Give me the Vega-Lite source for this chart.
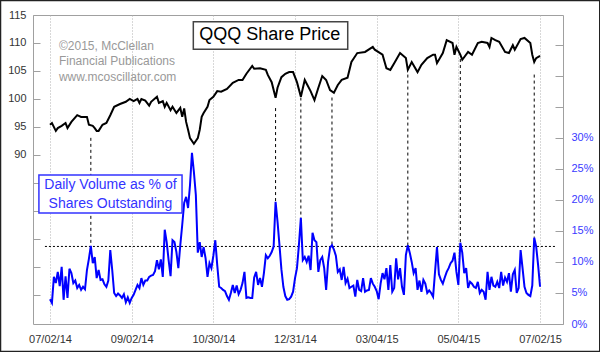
{
"$schema": "https://vega.github.io/schema/vega-lite/v6.json",
"width": 530, "height": 309,
"autosize": "none",
"padding": {"left": 33, "top": 15, "right": 37, "bottom": 28},
"background": "white",
"config": {"view": {"stroke": "#a0a0a0", "strokeWidth": 1}, "font": "Liberation Sans"},
"datasets": {
"price": [{"d":0,"p":95.4},{"d":1,"p":95.7},{"d":3,"p":94.3},{"d":4,"p":94.8},{"d":6,"p":95.2},{"d":8,"p":95.7},{"d":9,"p":94.8},{"d":11,"p":95.9},{"d":14,"p":97.1},{"d":16,"p":96.8},{"d":19,"p":96.8},{"d":20,"p":95.4},{"d":22,"p":95.2},{"d":23,"p":94.8},{"d":24,"p":94.3},{"d":25,"p":94.3},{"d":27,"p":95.4},{"d":29,"p":95.7},{"d":31,"p":97.1},{"d":33,"p":98.6},{"d":36,"p":99.1},{"d":39,"p":99.5},{"d":41,"p":100.0},{"d":43,"p":99.6},{"d":45,"p":100.0},{"d":46,"p":99.3},{"d":47,"p":100.0},{"d":49,"p":99.7},{"d":51,"p":98.8},{"d":52,"p":99.5},{"d":55,"p":100.4},{"d":56,"p":99.3},{"d":58,"p":99.6},{"d":59,"p":98.6},{"d":60,"p":99.3},{"d":62,"p":98.0},{"d":63,"p":98.6},{"d":65,"p":97.5},{"d":67,"p":98.4},{"d":68,"p":96.8},{"d":69,"p":98.3},{"d":70,"p":95.9},{"d":71,"p":94.5},{"d":72,"p":93.0},{"d":74,"p":92.0},{"d":76,"p":93.0},{"d":77,"p":94.5},{"d":78,"p":96.8},{"d":79,"p":97.5},{"d":81,"p":98.6},{"d":82,"p":99.8},{"d":84,"p":100.4},{"d":86,"p":101.4},{"d":88,"p":101.3},{"d":91,"p":101.8},{"d":94,"p":102.9},{"d":97,"p":103.4},{"d":99,"p":103.4},{"d":101,"p":104.5},{"d":104,"p":105.9},{"d":105,"p":105.4},{"d":108,"p":105.5},{"d":111,"p":105.2},{"d":112,"p":104.3},{"d":114,"p":103.0},{"d":116,"p":100.2},{"d":117,"p":102.0},{"d":119,"p":103.9},{"d":121,"p":104.5},{"d":123,"p":104.8},{"d":125,"p":104.8},{"d":127,"p":103.0},{"d":129,"p":100.4},{"d":131,"p":103.4},{"d":134,"p":101.4},{"d":136,"p":99.8},{"d":138,"p":102.0},{"d":140,"p":104.1},{"d":142,"p":103.4},{"d":144,"p":101.6},{"d":146,"p":101.1},{"d":148,"p":102.5},{"d":150,"p":103.4},{"d":153,"p":103.8},{"d":155,"p":106.6},{"d":158,"p":108.2},{"d":162,"p":108.4},{"d":166,"p":109.3},{"d":167,"p":108.8},{"d":171,"p":107.9},{"d":173,"p":105.5},{"d":175,"p":105.2},{"d":177,"p":106.4},{"d":180,"p":108.2},{"d":183,"p":107.3},{"d":184,"p":105.2},{"d":186,"p":106.6},{"d":189,"p":104.8},{"d":191,"p":106.1},{"d":194,"p":107.3},{"d":197,"p":107.9},{"d":198,"p":107.9},{"d":199,"p":106.4},{"d":202,"p":108.2},{"d":204,"p":110.5},{"d":207,"p":110.0},{"d":208,"p":107.9},{"d":209,"p":109.3},{"d":211,"p":107.9},{"d":212,"p":107.0},{"d":215,"p":108.4},{"d":217,"p":107.9},{"d":220,"p":110.0},{"d":222,"p":110.2},{"d":225,"p":110.0},{"d":226,"p":109.3},{"d":227,"p":110.9},{"d":229,"p":110.5},{"d":231,"p":110.2},{"d":234,"p":108.4},{"d":236,"p":108.2},{"d":238,"p":109.6},{"d":239,"p":108.8},{"d":242,"p":110.7},{"d":244,"p":110.9},{"d":247,"p":110.0},{"d":248,"p":107.9},{"d":249,"p":106.6},{"d":250,"p":107.3},{"d":252,"p":107.7}],
"volume": [{"d":0,"v":4.0},{"d":1,"v":3.4},{"d":2,"v":7.6},{"d":3,"v":6.6},{"d":4,"v":8.4},{"d":5,"v":6.1},{"d":6,"v":9.2},{"d":7,"v":3.9},{"d":8,"v":7.7},{"d":9,"v":4.2},{"d":10,"v":8.9},{"d":11,"v":8.2},{"d":12,"v":6.6},{"d":13,"v":7.0},{"d":14,"v":5.8},{"d":15,"v":6.3},{"d":16,"v":5.5},{"d":17,"v":6.0},{"d":18,"v":5.6},{"d":19,"v":8.7},{"d":20,"v":10.5},{"d":21,"v":12.6},{"d":22,"v":9.8},{"d":23,"v":10.8},{"d":24,"v":7.4},{"d":25,"v":8.7},{"d":26,"v":7.1},{"d":27,"v":7.2},{"d":28,"v":6.4},{"d":29,"v":6.0},{"d":30,"v":7.0},{"d":31,"v":11.9},{"d":32,"v":8.7},{"d":33,"v":5.0},{"d":34,"v":4.5},{"d":35,"v":4.9},{"d":36,"v":4.6},{"d":37,"v":4.2},{"d":38,"v":4.8},{"d":39,"v":3.5},{"d":40,"v":4.3},{"d":41,"v":3.4},{"d":42,"v":4.2},{"d":43,"v":4.7},{"d":44,"v":5.5},{"d":45,"v":6.3},{"d":46,"v":5.8},{"d":47,"v":7.4},{"d":48,"v":6.3},{"d":49,"v":7.0},{"d":50,"v":7.0},{"d":51,"v":7.6},{"d":52,"v":7.8},{"d":53,"v":7.9},{"d":54,"v":8.5},{"d":55,"v":10.3},{"d":56,"v":8.8},{"d":57,"v":10.4},{"d":58,"v":7.6},{"d":59,"v":15.2},{"d":60,"v":13.2},{"d":61,"v":10.3},{"d":62,"v":7.7},{"d":63,"v":13.5},{"d":64,"v":13.2},{"d":65,"v":11.6},{"d":66,"v":9.0},{"d":67,"v":12.7},{"d":68,"v":16.0},{"d":69,"v":19.5},{"d":70,"v":20.5},{"d":71,"v":18.7},{"d":72,"v":22.4},{"d":73,"v":27.6},{"d":74,"v":24.5},{"d":75,"v":20.8},{"d":76,"v":11.5},{"d":77,"v":13.2},{"d":78,"v":10.8},{"d":79,"v":12.4},{"d":80,"v":10.6},{"d":81,"v":7.6},{"d":82,"v":9.8},{"d":83,"v":9.0},{"d":84,"v":11.0},{"d":85,"v":13.5},{"d":86,"v":9.5},{"d":87,"v":6.0},{"d":88,"v":5.8},{"d":89,"v":5.5},{"d":90,"v":5.3},{"d":91,"v":4.5},{"d":92,"v":3.9},{"d":93,"v":5.0},{"d":94,"v":6.3},{"d":95,"v":5.0},{"d":96,"v":6.2},{"d":97,"v":4.8},{"d":98,"v":5.5},{"d":99,"v":6.6},{"d":100,"v":8.4},{"d":101,"v":4.2},{"d":102,"v":4.3},{"d":103,"v":4.2},{"d":104,"v":4.2},{"d":105,"v":7.5},{"d":106,"v":8.4},{"d":107,"v":6.3},{"d":108,"v":7.4},{"d":109,"v":6.0},{"d":110,"v":8.2},{"d":111,"v":11.1},{"d":112,"v":10.6},{"d":113,"v":11.0},{"d":114,"v":11.6},{"d":115,"v":12.5},{"d":116,"v":19.7},{"d":117,"v":16.5},{"d":118,"v":12.7},{"d":119,"v":8.8},{"d":120,"v":6.0},{"d":121,"v":4.5},{"d":122,"v":3.9},{"d":123,"v":4.0},{"d":124,"v":4.4},{"d":125,"v":5.2},{"d":126,"v":7.4},{"d":127,"v":9.0},{"d":128,"v":12.7},{"d":129,"v":17.1},{"d":130,"v":10.3},{"d":131,"v":10.8},{"d":132,"v":10.0},{"d":133,"v":11.0},{"d":134,"v":8.7},{"d":135,"v":14.7},{"d":136,"v":13.5},{"d":137,"v":13.2},{"d":138,"v":8.4},{"d":139,"v":10.3},{"d":140,"v":10.8},{"d":141,"v":9.0},{"d":142,"v":5.5},{"d":143,"v":10.0},{"d":144,"v":12.3},{"d":145,"v":12.7},{"d":146,"v":12.0},{"d":147,"v":11.0},{"d":148,"v":8.4},{"d":149,"v":8.8},{"d":150,"v":7.1},{"d":151,"v":9.2},{"d":152,"v":6.6},{"d":153,"v":7.3},{"d":154,"v":5.8},{"d":155,"v":6.0},{"d":156,"v":6.2},{"d":157,"v":4.4},{"d":158,"v":7.1},{"d":159,"v":5.5},{"d":160,"v":5.3},{"d":161,"v":7.4},{"d":162,"v":5.2},{"d":163,"v":5.4},{"d":164,"v":5.5},{"d":165,"v":7.4},{"d":166,"v":6.5},{"d":167,"v":6.0},{"d":168,"v":5.3},{"d":169,"v":4.0},{"d":170,"v":6.5},{"d":171,"v":8.2},{"d":172,"v":7.2},{"d":173,"v":9.0},{"d":174,"v":5.5},{"d":175,"v":9.5},{"d":176,"v":5.2},{"d":177,"v":5.8},{"d":178,"v":10.6},{"d":179,"v":7.2},{"d":180,"v":9.0},{"d":181,"v":6.0},{"d":182,"v":4.7},{"d":183,"v":11.1},{"d":184,"v":12.7},{"d":185,"v":11.5},{"d":186,"v":10.0},{"d":187,"v":8.2},{"d":188,"v":9.0},{"d":189,"v":5.5},{"d":190,"v":7.0},{"d":191,"v":5.2},{"d":192,"v":7.1},{"d":193,"v":6.5},{"d":194,"v":5.0},{"d":195,"v":5.4},{"d":196,"v":5.0},{"d":197,"v":4.4},{"d":198,"v":8.4},{"d":199,"v":12.4},{"d":200,"v":8.0},{"d":201,"v":7.1},{"d":202,"v":6.5},{"d":203,"v":7.5},{"d":204,"v":8.4},{"d":205,"v":9.0},{"d":206,"v":9.8},{"d":207,"v":10.2},{"d":208,"v":11.5},{"d":209,"v":8.4},{"d":210,"v":6.3},{"d":211,"v":13.1},{"d":212,"v":11.5},{"d":213,"v":8.2},{"d":214,"v":9.0},{"d":215,"v":5.8},{"d":216,"v":6.8},{"d":217,"v":6.5},{"d":218,"v":6.0},{"d":219,"v":5.8},{"d":220,"v":6.8},{"d":221,"v":5.0},{"d":222,"v":5.5},{"d":223,"v":5.2},{"d":224,"v":3.9},{"d":225,"v":8.4},{"d":226,"v":5.5},{"d":227,"v":7.6},{"d":228,"v":6.2},{"d":229,"v":6.0},{"d":230,"v":6.8},{"d":231,"v":5.8},{"d":232,"v":8.4},{"d":233,"v":6.2},{"d":234,"v":7.5},{"d":235,"v":6.8},{"d":236,"v":8.2},{"d":237,"v":5.2},{"d":238,"v":8.0},{"d":239,"v":8.7},{"d":240,"v":5.0},{"d":241,"v":5.8},{"d":242,"v":11.9},{"d":243,"v":9.0},{"d":244,"v":6.0},{"d":245,"v":5.0},{"d":246,"v":4.7},{"d":247,"v":4.5},{"d":248,"v":6.2},{"d":249,"v":13.9},{"d":250,"v":12.5},{"d":251,"v":9.5},{"d":252,"v":6.0}],
"drops": [{"d":21,"v":30.0,"v2":12.6},{"d":116,"v":34.8,"v2":19.7},{"d":129,"v":36.5,"v2":17.1},{"d":145,"v":36.5,"v2":12.7},{"d":184,"v":40.2,"v2":12.7},{"d":211,"v":42.7,"v2":13.1},{"d":249,"v":40.2,"v2":13.9}],
"level": [{"d":-2.6,"d2":260,"v":12.5}],
"frame": [{"d":-25.45,"d2":282.7,"p":54.9,"p2":117.6}],
"pbox": [{"d":73.7,"d2":153.1,"p":108.88,"p2":113.8}],
"ptitle": [{"d":113.0,"p":110.54,"t":"QQQ Share Price"}],
"copy": [{"d":4.6,"p":108.75,"t":"©2015, McClellan"},{"d":4.6,"p":106.07,"t":"Financial Publications"},{"d":4.6,"p":103.27,"t":"www.mcoscillator.com"}],
"vbox": [{"d":-5.7,"d2":67.9,"v":17.9,"v2":24.0}],
"vtext": [{"d":31.1,"v":21.73,"t":"Daily Volume as % of"},{"d":31.1,"v":18.76,"t":"Shares Outstanding"}]
},
"encoding": {
 "x": {"field": "d", "type": "quantitative", "scale": {"domain": [-8.74, 263.8], "nice": false, "zero": false},
  "axis": {"values": [0, 42, 84, 126, 168, 210, 252], "labelExpr": "['07/02/14','09/02/14','10/30/14','12/31/14','03/04/15','05/04/15','07/02/15'][round(datum.value/42)]", "title": null, "grid": true, "gridColor": "#b0b0b0", "gridDash": [1, 2], "gridWidth": 1, "ticks": false, "domain": false, "labelFontSize": 11, "labelColor": "#333333", "labelPadding": 9, "labelFont": "Liberation Sans", "labelFlush": false, "labelOverlap": false}}
},
"layer": [
{
"encoding": {
 "y": {"field": "p", "type": "quantitative", "scale": {"domain": [59.8, 115], "nice": false, "zero": false},
  "axis": {"orient": "left", "values": [65, 70, 75, 80, 85, 90, 95, 100, 105, 110, 115], "labelExpr": "datum.value >= 90 ? datum.label : ''", "title": null, "grid": false, "domain": false, "tickSize": -7, "tickColor": "#a0a0a0", "labelPadding": 14, "labelFontSize": 11, "labelColor": "#333333", "labelFont": "Liberation Sans", "labelOverlap": false}}
},
"layer": [
{"data": {"name": "frame"},
 "mark": {"type": "rect", "fill": null, "fillOpacity": 0, "stroke": "#222222", "strokeWidth": 1.5, "clip": false},
 "encoding": {"x2": {"field": "d2"}, "y2": {"field": "p2"}}},
{"data": {"name": "price"},
 "mark": {"type": "line", "color": "black", "strokeWidth": 2}},
{"data": {"name": "pbox"},
 "mark": {"type": "rect", "fill": "white", "stroke": "#444444", "strokeWidth": 1.5},
 "encoding": {"x2": {"field": "d2"}, "y2": {"field": "p2"}}},
{"data": {"name": "ptitle"},
 "mark": {"type": "text", "fontSize": 18, "color": "black", "align": "center", "baseline": "alphabetic", "font": "Liberation Sans"},
 "encoding": {"text": {"field": "t"}}},
{"data": {"name": "copy"},
 "mark": {"type": "text", "fontSize": 12, "color": "#999999", "align": "left", "baseline": "alphabetic", "font": "Liberation Sans"},
 "encoding": {"text": {"field": "t"}}}
]
},
{
"encoding": {
 "y": {"field": "v", "type": "quantitative", "scale": {"domain": [0, 49.8], "nice": false, "zero": false},
  "axis": {"orient": "right", "values": [0, 5, 10, 15, 20, 25, 30, 35, 40, 45], "labelExpr": "datum.value <= 30 ? datum.value + '%' : ''", "title": null, "grid": false, "domain": false, "tickSize": -8, "tickColor": "#a0a0a0", "labelPadding": 16, "labelFontSize": 11, "labelColor": "#3a3aff", "labelFont": "Liberation Sans", "labelOverlap": false}}
},
"layer": [
{"data": {"name": "drops"},
 "mark": {"type": "rule", "color": "black", "strokeDash": [3, 3], "strokeWidth": 1},
 "encoding": {"y2": {"field": "v2"}}},
{"data": {"name": "level"},
 "mark": {"type": "rule", "color": "black", "strokeDash": [2, 2], "strokeWidth": 1},
 "encoding": {"x2": {"field": "d2"}}},
{"data": {"name": "volume"},
 "mark": {"type": "line", "color": "#0000ff", "strokeWidth": 2}},
{"data": {"name": "vbox"},
 "mark": {"type": "rect", "fill": "white", "stroke": "#3333ff", "strokeWidth": 1.5},
 "encoding": {"x2": {"field": "d2"}, "y2": {"field": "v2"}}},
{"data": {"name": "vtext"},
 "mark": {"type": "text", "fontSize": 14, "color": "#3333ff", "align": "center", "baseline": "alphabetic", "font": "Liberation Sans"},
 "encoding": {"text": {"field": "t"}}}
]
}
],
"resolve": {"scale": {"y": "independent"}}
}
